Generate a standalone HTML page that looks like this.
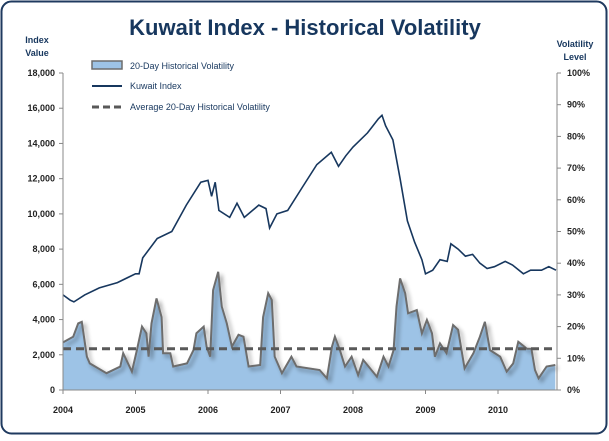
<!DOCTYPE html>
<html><head><meta charset="utf-8"><style>
body{margin:0;background:#fff;font-family:"Liberation Sans",sans-serif}
svg text{font-family:"Liberation Sans",sans-serif}
</style></head><body>
<svg id="c" width="609" height="436">
<defs><filter id="sh" x="-5%" y="-5%" width="110%" height="120%"><feGaussianBlur in="SourceAlpha" stdDeviation="2"/><feOffset dx="3" dy="3"/><feComponentTransfer><feFuncA type="linear" slope="0.4"/></feComponentTransfer><feMerge><feMergeNode/><feMergeNode in="SourceGraphic"/></feMerge></filter></defs>
<rect x="1.5" y="1.5" width="605" height="432" rx="10" fill="#fff" stroke="#1f3a5f" stroke-width="2"/>
<text x="305" y="35" text-anchor="middle" font-size="22" font-weight="bold" fill="#17375e">Kuwait Index - Historical Volatility</text>
<text x="37" y="43" text-anchor="middle" font-size="9" font-weight="bold" fill="#17375e"><tspan x="37">Index</tspan><tspan x="37" dy="13">Value</tspan></text>
<text x="575" y="47" text-anchor="middle" font-size="9" font-weight="bold" fill="#17375e"><tspan x="575">Volatility</tspan><tspan x="575" dy="13">Level</tspan></text>
<g id="plot"></g>
<g>
<rect x="92" y="61" width="30" height="8" fill="#9dc3e6" stroke="#6d6d6d" stroke-width="1.5"/>
<text x="130" y="69" font-size="9" fill="#17375e">20-Day Historical Volatility</text>
<line x1="92" y1="86" x2="122" y2="86" stroke="#17375e" stroke-width="2"/>
<text x="130" y="89" font-size="9" fill="#17375e">Kuwait Index</text>
<line x1="92" y1="107" x2="122" y2="107" stroke="#595959" stroke-width="3" stroke-dasharray="7,4"/>
<text x="130" y="110" font-size="9" fill="#17375e">Average 20-Day Historical Volatility</text>
</g>
</svg>
<script>
const yearTicks=[2004,2005,2006,2007,2008,2009,2010];
const leftTicks=[0,2000,4000,6000,8000,10000,12000,14000,16000,18000];
const rightTicks=[0,10,20,30,40,50,60,70,80,90,100];
const idxYears=[2004.0,2004.1,2004.15,2004.3,2004.5,2004.75,2005.0,2005.05,2005.1,2005.3,2005.5,2005.7,2005.9,2006.0,2006.05,2006.1,2006.15,2006.3,2006.4,2006.5,2006.7,2006.8,2006.85,2006.95,2007.1,2007.3,2007.5,2007.7,2007.8,2007.9,2008.0,2008.2,2008.35,2008.4,2008.45,2008.55,2008.65,2008.75,2008.85,2008.95,2009.0,2009.1,2009.2,2009.3,2009.35,2009.45,2009.55,2009.65,2009.75,2009.85,2009.95,2010.1,2010.2,2010.35,2010.45,2010.6,2010.7,2010.8];
const idxValues=[5400,5100,5000,5400,5800,6100,6600,6600,7500,8600,9000,10500,11800,11900,11000,11800,10200,9800,10600,9800,10500,10300,9200,10000,10200,11500,12800,13500,12700,13300,13800,14600,15400,15600,15000,14200,12000,9600,8400,7400,6600,6800,7400,7300,8300,8000,7600,7700,7200,6900,7000,7300,7100,6600,6800,6800,7000,6800];
const volYears=[2004.00,2004.14,2004.21,2004.26,2004.33,2004.37,2004.60,2004.79,2004.83,2004.95,2005.02,2005.09,2005.15,2005.18,2005.22,2005.29,2005.36,2005.38,2005.48,2005.52,2005.71,2005.80,2005.84,2005.94,2005.98,2006.03,2006.07,2006.14,2006.19,2006.26,2006.33,2006.42,2006.49,2006.56,2006.72,2006.76,2006.83,2006.88,2006.92,2007.02,2007.15,2007.22,2007.54,2007.64,2007.71,2007.75,2007.82,2007.89,2007.98,2008.07,2008.14,2008.33,2008.42,2008.49,2008.56,2008.60,2008.65,2008.72,2008.76,2008.88,2008.95,2009.02,2009.09,2009.13,2009.20,2009.29,2009.38,2009.45,2009.54,2009.66,2009.75,2009.82,2009.89,2010.03,2010.12,2010.21,2010.28,2010.40,2010.46,2010.51,2010.56,2010.67,2010.79];
const volValues=[15,16.8,21,21.5,10.5,8.4,5.3,7.4,11.6,5.8,12.6,20,17.9,10.5,21,28.9,23,11.6,11.6,7.4,8.4,12.6,17.9,20,13.7,10.5,31.5,37.3,26.3,21,13.7,17.4,16.8,7.4,7.9,23,30.5,28.4,10.5,5.3,10.5,7.4,6.3,3.7,13.7,16.8,12.6,7.4,10.5,4.7,9.5,4.2,10.5,7.4,12.6,26.3,35.2,30.5,24.2,25.2,17.9,22.1,17.9,10.5,14.7,11.6,20.5,19,6.8,11.6,16.8,21.5,12.6,10.5,5.8,8.4,15.2,13,13,6.3,3.7,7.4,7.9];
const avgVol=13;
const NS='http://www.w3.org/2000/svg';
const X0=63,XW=72.5,Y0=390,YT=73,XR=557;
const x=y=>X0+(y-2004)*XW;
const yL=v=>Y0-(v/18000)*(Y0-YT);
const yR=p=>Y0-(p/100)*(Y0-YT);
const g=document.getElementById('plot');
function mk(t,a){const e=document.createElementNS(NS,t);for(const k in a)e.setAttribute(k,a[k]);g.appendChild(e);return e;}
// volatility area
let d='M'+x(volYears[0])+','+Y0;
volYears.forEach((yy,i)=>{d+=' L'+x(yy).toFixed(1)+','+yR(volValues[i]).toFixed(1);});
d+=' L'+x(volYears[volYears.length-1])+','+Y0+' Z';
const area=mk('path',{d:d,fill:'#9dc3e6'});


let ld='';volYears.forEach((yy,i)=>{ld+=(i?' L':'M')+x(yy).toFixed(1)+','+yR(volValues[i]).toFixed(1);});
const vl=mk('path',{d:ld,fill:'none',stroke:'#6d6d6d','stroke-width':2,filter:'url(#sh)'});


const av=mk('line',{x1:X0,x2:XR,y1:yR(avgVol),y2:yR(avgVol),stroke:'#595959','stroke-width':3,'stroke-dasharray':'8,5'});


let id='';idxYears.forEach((yy,i)=>{id+=(i?' L':'M')+x(yy).toFixed(1)+','+yL(idxValues[i]).toFixed(1);});
const il=mk('path',{d:id,fill:'none',stroke:'#17375e','stroke-width':1.6});


// axes
const ax=mk('path',{d:`M${X0},${YT} L${X0},${Y0} L${XR},${Y0} L${XR},${YT}`,fill:'none',stroke:'#888','stroke-width':1});


leftTicks.forEach(v=>{
  mk('line',{x1:X0-4,x2:X0,y1:yL(v),y2:yL(v),stroke:'#888'});
  const t=mk('text',{x:X0-8,y:yL(v)+3,'text-anchor':'end','font-size':9,'font-weight':'bold',fill:'#222'});
  t.textContent=v.toLocaleString('en-US');
  
  
});
rightTicks.forEach(v=>{
  mk('line',{x1:XR,x2:XR+4,y1:yR(v),y2:yR(v),stroke:'#888'});
  const t=mk('text',{x:XR+10,y:yR(v)+3,'font-size':9,'font-weight':'bold',fill:'#222'});
  t.textContent=v+'%';
  
  
});
yearTicks.forEach(yy=>{
  mk('line',{x1:x(yy),x2:x(yy),y1:Y0,y2:Y0+4,stroke:'#888'});
  const t=mk('text',{x:x(yy),y:Y0+23,'text-anchor':'middle','font-size':9,'font-weight':'bold',fill:'#222'});
  t.textContent=yy;
  
  
});
</script>
</body></html>
